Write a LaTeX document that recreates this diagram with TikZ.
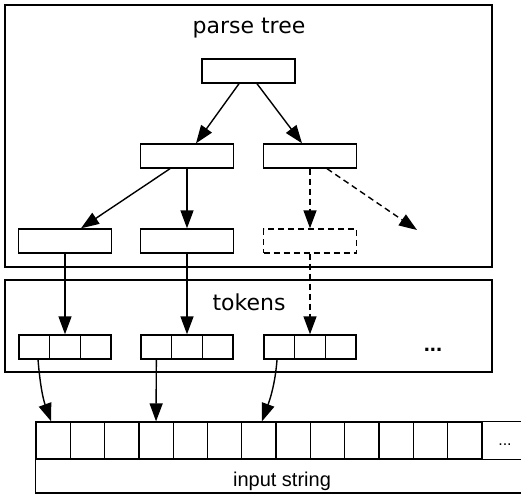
\documentclass[tikz,border=0pt]{standalone}
\usepackage{fontspec}
\setmainfont{Liberation Sans}
\newfontfamily\titlefont{DejaVu Sans}
\usetikzlibrary{arrows.meta,calc}
\tikzset{
  frame/.style={draw=black,line width=1.4pt},
  tbox/.style={draw=black,line width=1.4pt,rectangle,minimum width=93pt,minimum height=24pt,inner sep=0pt},
  dbox/.style={tbox,dash pattern=on 6pt off 4pt},
  tcell/.style={draw=black,line width=1.4pt,rectangle,minimum width=30.67pt,minimum height=24pt,inner sep=0pt},
  scell/.style={draw=black,line width=1.3pt,rectangle,minimum width=34.3pt,minimum height=37pt,inner sep=0pt},
  arr/.style={line width=1.4pt,-{Triangle[length=18pt,width=13pt]}},
  darr/.style={arr,dash pattern=on 6pt off 4pt},
  title/.style={font=\titlefont\fontsize{22}{26}\selectfont,anchor=base,inner sep=0pt},
  lbl/.style={font=\fontsize{20}{24}\selectfont,anchor=base,inner sep=0pt},
  dots/.style={font=\bfseries\fontsize{22}{26}\selectfont,inner sep=0pt}
}
\begin{document}
\begin{tikzpicture}[x=1pt,y=-1pt]
\clip (0,0) rectangle (521,495);
\fill[white] (0,0) rectangle (521,495);
% frames
\node[frame,rectangle,minimum width=487pt,minimum height=262pt,inner sep=0pt] (ptframe) at (248.5,136) {};
\node[frame,rectangle,minimum width=487pt,minimum height=92pt,inner sep=0pt] (tkframe) at (248.5,326) {};
\node[title] (pttitle) at (249,34) {parse tree};
\node[title] (tktitle) at (249,310) {tokens};
% tree nodes
\node[tbox] (r) at (248.5,71) {};
\node[tbox] (a) at (187,156) {};
\node[tbox] (b) at (310,156) {};
\node[tbox] (c) at (65,241) {};
\node[tbox] (d) at (187,241) {};
\node[dbox] (e) at (310,241) {};
\coordinate (free) at (417,230);
\draw[arr] ([xshift=-9.5pt]r.south) -- ([xshift=9pt]a.north);
\draw[arr] ([xshift=8.5pt]r.south) -- ([xshift=-8pt]b.north);
\draw[arr] ([xshift=-17pt]a.south) -- ([xshift=16pt]c.north);
\draw[arr] (a.south) -- (d.north);
\draw[darr] (b.south) -- (e.north);
\draw[darr] ([xshift=17pt]b.south) -- (free);
% token cells
\foreach \g/\x in {1/19,2/141,3/264}{
  \node[tcell] (t\g a) at ({\x+15.33},347) {};
  \node[tcell] (t\g b) at ({\x+46},347) {};
  \node[tcell] (t\g c) at ({\x+76.67},347) {};
}
\node[dots] (tdots) at (433,350) {...};
\draw[arr] (c.south) -- (t1b.north);
\draw[arr] (d.south) -- (t2b.north);
\draw[darr] (e.south) -- (t3b.north);
% input string
\foreach \i in {1,...,13}{
  \node[scell] (s\i) at ({36+34.3*(\i-0.5)},440.5) {};
}
\coordinate (inR) at (530,493);
\draw[line width=1.3pt] (s13.north east) -- (s13.north east -| inR);
\draw[line width=1.3pt] (s13.south east) -- (s13.south east -| inR);
\draw[line width=1.3pt] (s1.south west) -- (s1.south west |- inR) -- (inR);
\node[dots,font=\fontsize{16}{20}\selectfont] (sdots) at (505,444.5) {...};
\node[lbl] (instr) at (282,486.5) {input string};
% token to input arrows
\draw[arr] ([xshift=3.7pt]t1a.south) .. controls +(2,25) and +(-8,-22) .. ([xshift=-2pt]s1.north);
\draw[arr] (t2a.south) -- (s4.north);
\draw[arr] ([xshift=-2.3pt]t3a.south) .. controls +(-2,25) and +(8,-22) .. ([xshift=3pt]s7.north);
\end{tikzpicture}
\end{document}
